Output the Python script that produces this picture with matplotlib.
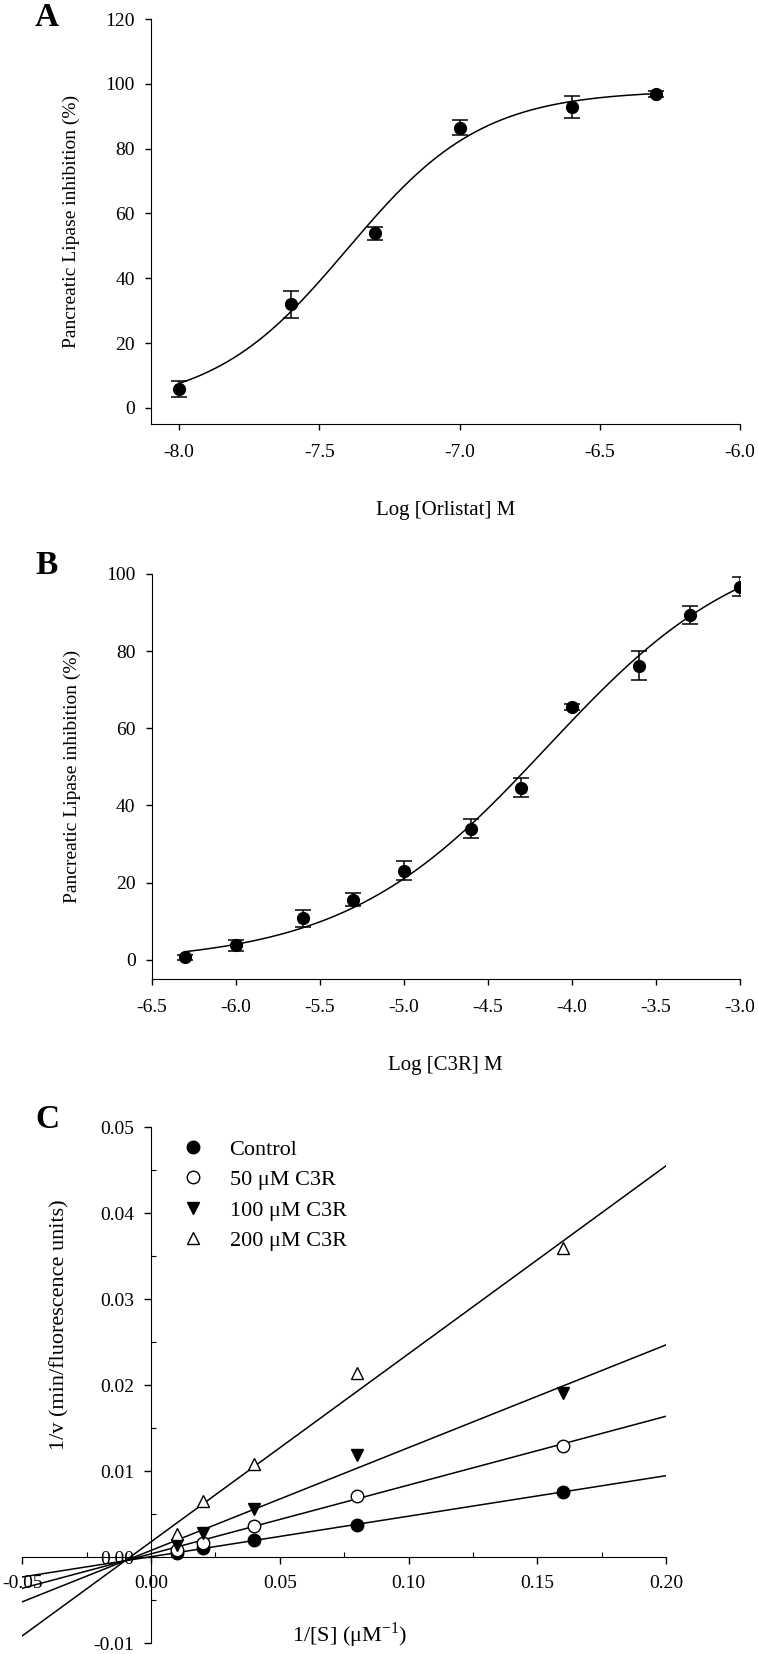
import numpy as np
import matplotlib.pyplot as plt
from matplotlib.ticker import MultipleLocator, FormatStrFormatter

plt.rcParams['font.family'] = ['Liberation Serif', 'DejaVu Serif']
plt.rcParams['mathtext.fontset'] = 'custom'
plt.rcParams['mathtext.rm'] = 'Liberation Serif'
plt.rcParams['axes.unicode_minus'] = False

# ---- panel A: orlistat dose response ----
orl_logc = [-8.0, -7.6, -7.3, -7.0, -6.6, -6.3]
orl_inhib = [5.8, 32.0, 53.8, 86.5, 92.8, 96.9]
orl_err = [2.6, 4.2, 2.0, 2.4, 3.4, 1.0]
orl_fit = {"bottom": 0.0, "top": 98.0, "logec50": -7.4, "hill": 1.8}

# ---- panel B: C3R dose response ----
c3r_logc = [-6.3, -6.0, -5.6, -5.3, -5.0, -4.6, -4.3, -4.0, -3.6, -3.3, -3.0]
c3r_inhib = [0.6, 3.7, 10.7, 15.6, 23.1, 34.0, 44.6, 65.5, 76.2, 89.4, 96.7]
c3r_err = [0.6, 1.5, 2.3, 1.7, 2.5, 2.5, 2.4, 0.8, 3.8, 2.3, 2.5]
c3r_fit = {"bottom": -1.0, "top": 111.0, "logec50": -4.15, "hill": 0.72}

# ---- panel C: Lineweaver-Burk ----
inv_s = [0.01, 0.02, 0.04, 0.08, 0.16]
lb_series = ["Control", "50 \u03bcM C3R", "100 \u03bcM C3R", "200 \u03bcM C3R"]
lb_control = [0.00047, 0.0011, 0.0020, 0.0038, 0.0076]
lb_50 = [0.00087, 0.0017, 0.0036, 0.0071, 0.0130]
lb_100 = [0.0014, 0.0028, 0.0056, 0.0119, 0.0191]
lb_200 = [0.0027, 0.0066, 0.0108, 0.0214, 0.0360]
lb_slopes = [0.0471, 0.080, 0.1195, 0.2186]
lb_intercepts = [0.00007, 0.0004, 0.0008, 0.0018]

ticks_a_x = [-8.0, -7.5, -7.0, -6.5, -6.0]
ticks_a_y = [0, 20, 40, 60, 80, 100, 120]
ticks_b_x = [-6.5, -6.0, -5.5, -5.0, -4.5, -4.0, -3.5, -3.0]
ticks_b_y = [0, 20, 40, 60, 80, 100]
ticks_c_x = [-0.05, 0.0, 0.05, 0.10, 0.15, 0.20]
ticks_c_y = [-0.01, 0.0, 0.01, 0.02, 0.03, 0.04, 0.05]

W, H = 758, 1654
tick_size = 14
label_size = 14
c_tick_size = 14
c_label_size = 16


def px_axes(left, top, right, bottom):
    return [left / W, 1 - bottom / H, (right - left) / W, (bottom - top) / H]


def logistic(x, p):
    return p["bottom"] + (p["top"] - p["bottom"]) / (1 + 10 ** ((p["logec50"] - x) * p["hill"]))


def dose_panel(ax, xs, ys, errs, fit, xlim, ylim, xticks, yticks, xlabel):
    xfit = np.linspace(min(xs), max(xs), 300)
    ax.plot(xfit, logistic(xfit, fit), color='black', lw=1.1)
    ax.errorbar(xs, ys, yerr=errs, fmt='o', color='black', ms=8.5,
                capsize=5.5, elinewidth=1.1, capthick=1.1)
    ax.set_xlim(*xlim)
    ax.set_ylim(*ylim)
    ax.set_xticks(xticks)
    ax.set_yticks(yticks)
    ax.xaxis.set_major_formatter(FormatStrFormatter('%.1f'))
    for s in ['top', 'right']:
        ax.spines[s].set_visible(False)
    ax.spines['left'].set_bounds(ylim[0], yticks[-1])
    ax.tick_params(direction='out', length=4.5, width=1, labelsize=tick_size)
    ax.tick_params(axis='x', pad=10)
    ax.tick_params(axis='y', pad=7)
    ax.set_ylabel("Pancreatic Lipase inhibition (%)", fontsize=label_size)
    ax.yaxis.set_label_coords(-0.12, 0.5)
    ax.set_xlabel(xlabel, fontsize=15)
    ax.xaxis.set_label_coords(0.5, -0.19)


fig = plt.figure(figsize=(W / 100, H / 100), dpi=100)

axA = fig.add_axes(px_axes(151, 19, 740, 424))
dose_panel(axA, orl_logc, orl_inhib, orl_err, orl_fit, (-8.1, -6.0), (-5, 120),
           ticks_a_x, ticks_a_y, "Log [Orlistat] M")

axB = fig.add_axes(px_axes(151.5, 574, 740, 979))
dose_panel(axB, c3r_logc, c3r_inhib, c3r_err, c3r_fit, (-6.5, -3.0), (-5, 100),
           ticks_b_x, ticks_b_y, "Log [C3R] M")

axC = fig.add_axes(px_axes(22.3, 1127.3, 666, 1643.3))
markers = [
    dict(marker='o', color='black', markerfacecolor='black'),
    dict(marker='o', color='black', markerfacecolor='white'),
    dict(marker='v', color='black', markerfacecolor='black'),
    dict(marker='^', color='black', markerfacecolor='white'),
]
xlim_c = (-0.05, 0.20)
line_x = np.array(xlim_c)
for vals, name, st, k, b in zip([lb_control, lb_50, lb_100, lb_200], lb_series,
                                markers, lb_slopes, lb_intercepts):
    axC.plot(line_x, b + k * line_x, color='black', lw=1.1, zorder=2)
    axC.plot(inv_s, vals, linestyle='none', ms=9, markeredgewidth=1.0,
             label=name, zorder=3, **st)

axC.set_xlim(*xlim_c)
axC.set_ylim(-0.01, 0.05)
axC.spines['left'].set_position(('data', 0))
axC.spines['bottom'].set_position(('data', 0))
for s in ['top', 'right']:
    axC.spines[s].set_visible(False)
axC.set_xticks(ticks_c_x)
axC.set_yticks(ticks_c_y)
axC.xaxis.set_minor_locator(MultipleLocator(0.025))
axC.yaxis.set_minor_locator(MultipleLocator(0.005))
axC.xaxis.set_major_formatter(FormatStrFormatter('%.2f'))
axC.yaxis.set_major_formatter(FormatStrFormatter('%.2f'))
axC.tick_params(which='major', direction='out', length=5, width=1, labelsize=c_tick_size)
axC.tick_params(which='minor', direction='in', length=3.5, width=0.8)
axC.tick_params(axis='x', which='major', pad=8)
axC.tick_params(axis='y', which='major', pad=7)
axC.set_ylabel("1/v (min/fluorescence units)", fontsize=c_label_size)
axC.yaxis.set_label_coords(0.074, 0.617)
axC.set_xlabel("1/[S] (\u03bcM$^{-1}$)", fontsize=c_label_size)
axC.xaxis.set_label_coords(0.509, 0.045)

axC.legend(loc='upper left', bbox_to_anchor=(182 / W, 1 - 1139 / H),
           bbox_transform=fig.transFigure, frameon=False, fontsize=c_label_size,
           borderpad=0, handlelength=1.0, handletextpad=1.14, labelspacing=0.45,
           borderaxespad=0)

for letter, y in [("A", 17), ("B", 565), ("C", 1120)]:
    fig.text(35 / W, 1 - y / H, letter, fontsize=24, fontweight='bold',
             ha='left', va='center')

fig.savefig("out.png", dpi=100)
